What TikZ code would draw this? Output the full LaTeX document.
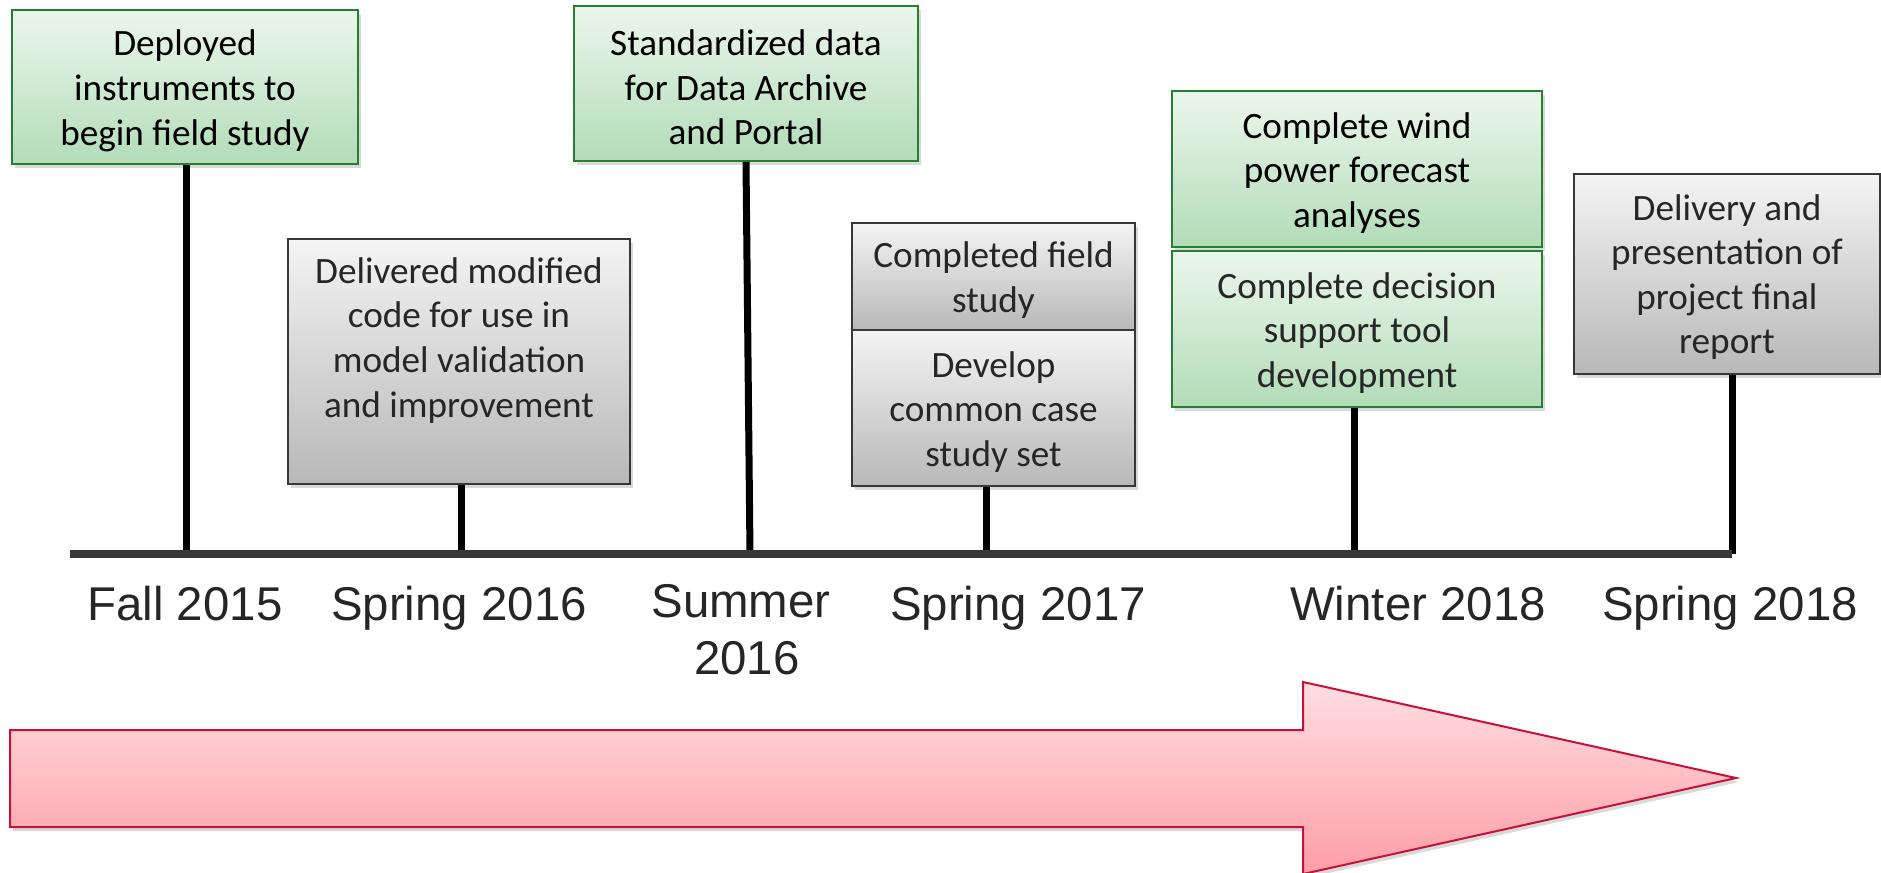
\documentclass[tikz,border=0pt]{standalone}
\usepackage{fontspec}
\setmainfont{Carlito}
\newfontfamily\arialfont{Liberation Sans}
\usetikzlibrary{shadows}
\definecolor{gtop}{RGB}{236,246,236}
\definecolor{gbot}{RGB}{178,220,184}
\definecolor{gborder}{RGB}{36,128,48}
\definecolor{ytop}{RGB}{244,244,244}
\definecolor{ybot}{RGB}{184,184,184}
\definecolor{yborder}{RGB}{55,55,55}
\definecolor{atop}{RGB}{255,222,226}
\definecolor{abot}{RGB}{255,158,166}
\definecolor{aborder}{RGB}{200,16,56}
\definecolor{txtgray}{RGB}{38,38,38}
\definecolor{axisgray}{RGB}{55,55,55}
\tikzset{
  boxbase/.style={rectangle, inner sep=0pt, line width=1pt,
    drop shadow={shadow xshift=1.5pt, shadow yshift=-2pt, opacity=0.3}},
  greenbox/.style={boxbase, draw=gborder, top color=gtop, bottom color=gbot},
  graybox/.style={boxbase, draw=yborder, top color=ytop, bottom color=ybot},
  boxtext/.style={align=center, inner sep=0pt, yshift=-1.9pt,
    font=\fontsize{18.6}{22.3}\selectfont, text=txtgray},
  stem/.style={line width=3.5pt, black},
  axisline/.style={line width=4pt, axisgray},
  datelabel/.style={font=\arialfont\fontsize{23.7}{28.5}\selectfont, text=txtgray, anchor=base, inner sep=0pt, align=center}
}
\begin{document}
\begin{tikzpicture}[x=0.5pt, y=-0.5pt]
\useasboundingbox (0,0) rectangle (1881,873);

% timeline coordinates
\coordinate (t0) at (70,554);
\coordinate (t1) at (186,554);
\coordinate (t2) at (461,554);
\coordinate (t3) at (750,554);
\coordinate (t4) at (986,554);
\coordinate (t5) at (1354,554);
\coordinate (t6) at (1732,554);

% boxes
\node[greenbox, minimum width=173pt, minimum height=77pt,
  label={[boxtext, text=black]center:{Deployed\\instruments to\\begin field study}}] (b1) at (185,87) {};
\node[graybox, minimum width=171pt, minimum height=122.5pt,
  label={[boxtext, yshift=-0.5pt]center:{Delivered modified\\code for use in\\model validation\\and improvement\\ \strut}}] (b2) at (459,361.5) {};
\node[greenbox, minimum width=172pt, minimum height=77.5pt,
  label={[boxtext, text=black]center:{Standardized data\\for Data Archive\\and Portal}}] (b3) at (746,83.5) {};
\node[graybox, minimum width=141.5pt, minimum height=53.5pt,
  label={[boxtext]center:{Completed field\\study}}] (b4a) at (993.5,276.5) {};
\node[graybox, minimum width=141.5pt, minimum height=78pt,
  label={[boxtext]center:{Develop\\common case\\study set}}] (b4b) at (993.5,408) {};
\node[greenbox, minimum width=185pt, minimum height=78pt,
  label={[boxtext, text=black]center:{Complete wind\\power forecast\\analyses}}] (b5a) at (1357,169) {};
\node[greenbox, minimum width=185pt, minimum height=78pt,
  label={[boxtext]center:{Complete decision\\support tool\\development}}] (b5b) at (1357,329) {};
\node[graybox, minimum width=153pt, minimum height=100pt,
  label={[boxtext, yshift=0.4pt]center:{Delivery and\\presentation of\\project final\\report}}] (b6) at (1727,274) {};

% stems and axis
\draw[stem] (t1 |- b1.south) -- (t1);
\draw[stem] (t2 |- b2.south) -- (t2);
\draw[stem] (b3.south) -- (t3);
\draw[stem] (t4 |- b4b.south) -- (t4);
\draw[stem] (t5 |- b5b.south) -- (t5);
\draw[stem] (t6 |- b6.south) -- (t6);
\draw[axisline] (t0) -- (t6);

% date labels
\node[datelabel] (l1) at (185,620) {Fall 2015};
\node[datelabel] (l2) at (459,620) {Spring 2016};
\node[datelabel] (l3a) at (741,617) {Summer};
\node[datelabel] (l3b) at (747,674) {2016};
\node[datelabel] (l4) at (1018,620) {Spring 2017};
\node[datelabel] (l5) at (1418,620) {Winter 2018};
\node[datelabel] (l6) at (1730,620) {Spring 2018};

% big arrow
\shade[top color=atop, bottom color=abot, draw=aborder, line width=1pt,
  drop shadow={shadow xshift=1.5pt, shadow yshift=-2pt, opacity=0.3}]
  (10,730) -- (1303,730) -- (1303,682) -- (1736,778) -- (1303,874)
  -- (1303,827) -- (10,827) -- cycle;
\end{tikzpicture}
\end{document}
